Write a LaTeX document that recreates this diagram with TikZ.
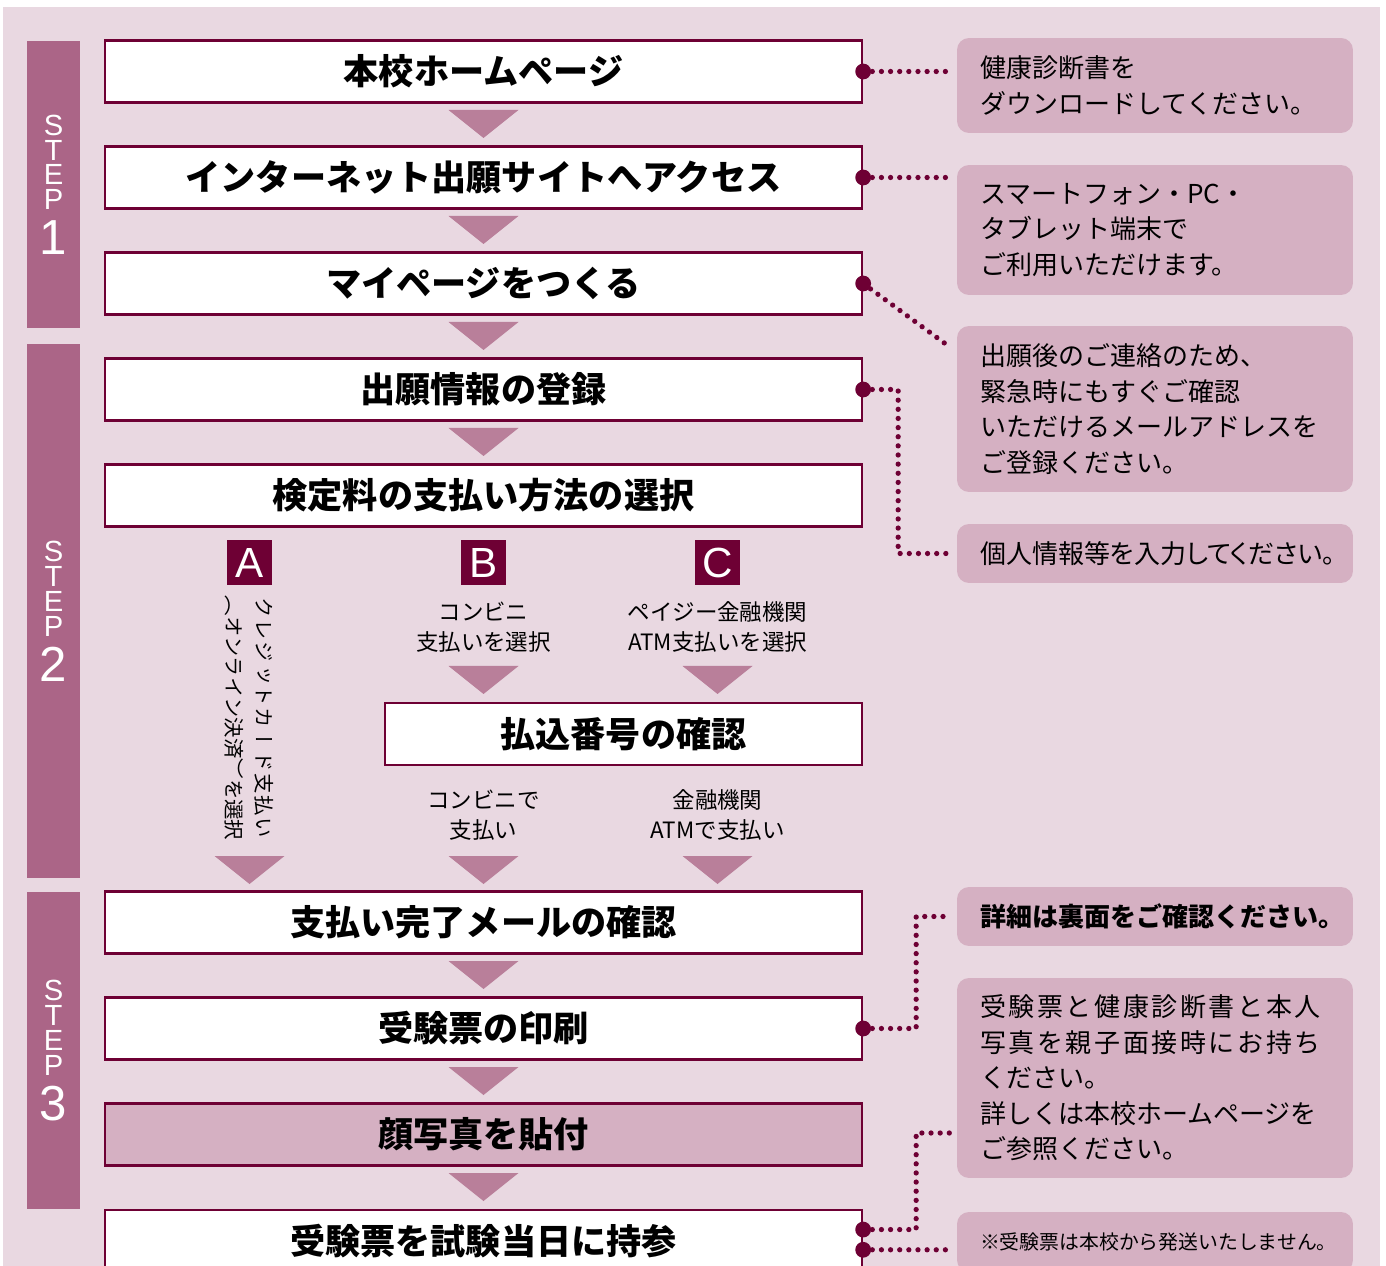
\documentclass[tikz,border=0pt]{standalone}
\usepackage{fontspec}
\usepackage{tikz}
\setmainfont{Noto Sans CJK JP}
\newfontfamily\vertjp{Noto Sans CJK JP}[Vertical=RotatedGlyphs]
\newfontfamily\stepfont{Liberation Sans}
\definecolor{bgP}{RGB}{233,216,225}
\definecolor{stepP}{RGB}{171,101,135}
\definecolor{noteP}{RGB}{213,176,194}
\definecolor{triP}{RGB}{185,127,154}
\definecolor{darkP}{RGB}{110,0,52}

\begin{document}
\begin{tikzpicture}[x=0.02cm, y=-0.02cm,
    flow/.style={draw=darkP, line width=1.4pt, fill=white, minimum width=15.14cm,
                 minimum height=1.24cm, inner sep=0pt, font=\fontsize{20}{24}\selectfont\bfseries},
    stepbar/.style={fill=stepP, minimum width=1.06cm, inner sep=0pt, text=white,
                    align=center, font=\stepfont\fontsize{16.6}{14.2}\selectfont},
    note/.style={fill=noteP, rounded corners=6.8pt, minimum width=7.92cm, text width=7cm,
                 align=left, inner xsep=0pt, font=\fontsize{14.8}{20.2}\selectfont},
    tag/.style={fill=darkP, text=white, minimum size=0.9cm, inner sep=0pt,
                font=\stepfont\fontsize{24}{24}\selectfont},
    sub/.style={align=center, font=\fontsize{12.8}{17}\selectfont},
    vsub/.style={rotate=-90, inner sep=0pt, font=\vertjp\fontsize{11.6}{11.6}\selectfont},
    dotline/.style={darkP, line width=3pt, line cap=round, dash pattern=on 0pt off 5.2pt},
    tri/.style={fill=triP}
  ]
  \useasboundingbox (0,0) rectangle (1386,1266);
  \fill[bgP] (3,7) rectangle (1380,1266);

  % step bars
  \node[stepbar, minimum height=5.74cm] (s1) at (53.5,184.5) {S\\T\\E\\P\\[5pt]{\fontsize{28}{28}\selectfont 1}};
  \node[stepbar, minimum height=10.68cm] (s2) at (53.5,611) {S\\T\\E\\P\\[5pt]{\fontsize{28}{28}\selectfont 2}};
  \node[stepbar, minimum height=6.34cm] (s3) at (53.5,1050.5) {S\\T\\E\\P\\[5pt]{\fontsize{28}{28}\selectfont 3}};

  % flow boxes
  \node[flow] (f1) at (483.5,71.5) {本校ホームページ};
  \node[flow] (f2) at (483.5,177.5) {インターネット出願サイトへアクセス};
  \node[flow] (f3) at (483.5,283.5) {マイページをつくる};
  \node[flow] (f4) at (483.5,389.5) {出願情報の登録};
  \node[flow] (f5) at (483.5,495.5) {検定料の支払い方法の選択};
  \node[flow, minimum width=9.54cm] (f6) at (623.5,734) {払込番号の確認};
  \node[flow] (f7) at (483.5,922.5) {支払い完了メールの確認};
  \node[flow] (f8) at (483.5,1028.5) {受験票の印刷};
  \node[flow, fill=noteP] (f9) at (483.5,1134.5) {顔写真を貼付};
  \node[flow] (f10) at (483.5,1241) {受験票を試験当日に持参};

  \foreach \x/\y in {483.5/110, 483.5/216, 483.5/322, 483.5/428, 483.5/666, 717.5/666,
                     249.5/856, 483.5/856, 717.5/856, 483.5/961, 483.5/1067, 483.5/1173}
    \fill[tri] (\x-35,\y) -- (\x+35,\y) -- (\x,\y+28) -- cycle;

  % payment choices
  \node[tag] (ta) at (249.5,562.5) {A};
  \node[tag] (tb) at (483.5,562.5) {B};
  \node[tag] (tc) at (717.5,562.5) {C};
  \node[vsub] (aR) at (264,718) {\addfontfeature{LetterSpace=8}クレジットカード支払い};
  \node[vsub] (aL) at (234,718) {（オンライン決済）を選択};
  \node[sub] (bt) at (483.5,627) {コンビニ\\支払いを選択};
  \node[sub] (ct) at (717.5,627) {ペイジー金融機関\\ATM支払いを選択};
  \node[sub] (bp) at (483.5,815) {コンビニで\\支払い};
  \node[sub] (cp) at (717.5,815) {金融機関\\ATMで支払い};

  % notes
  \node[note, minimum height=1.9cm] (n1) at (1155,85.5) {健康診断書を\\ダウンロードしてください。};
  \node[note, minimum height=2.6cm] (n2) at (1155,230) {スマートフォン・PC・\\タブレット端末で\\ご利用いただけます。};
  \node[note, minimum height=3.32cm] (n3) at (1155,409)
       {出願後のご連絡のため、\\緊急時にもすぐご確認\\いただけるメールアドレスを\\ご登録ください。};
  \node[note, minimum height=1.18cm] (n4) at (1155,553.5) {\addfontfeature{RawFeature=+palt}個人情報等を入力してください。};
  \node[note, minimum height=1.18cm, font=\fontsize{14.8}{20.2}\selectfont\bfseries] (n5) at (1155,916.5)
       {詳細は裏面をご確認ください。};
  \node[note, minimum height=4cm] (n6) at (1155,1078)
       {{\addfontfeature{LetterSpace=10}受験票と健康診断書と本人}\\{\addfontfeature{LetterSpace=10}写真を親子面接時にお持ち}\\ください。\\詳しくは本校ホームページを\\ご参照ください。};
  \node[note, minimum height=1.2cm, font=\fontsize{11.3}{14}\selectfont] (n7) at (1155,1242)
       {※受験票は本校から発送いたしません。};

  % dotted leaders
  \draw[dotline, shorten >=4pt] (f1.east) -- (f1.east -| n1.west);
  \draw[dotline, shorten >=4pt] (f2.east) -- (f2.east -| n2.west);
  \draw[dotline] (f3.east) -- ([shift={(-6,22)}]n3.north west);
  \draw[dotline] (f4.east) -- ++(35,0) |- ([xshift=-4pt]n4.west);
  \draw[dotline] (f8.east) -- ++(53,0) |- ([xshift=-4pt]n5.west);
  \draw[dotline] ([yshift=6.5pt]f10.east) -- ++(53,0) |- ([shift={(-5,55)}]n6.west);
  \draw[dotline, shorten >=4pt] ([yshift=-5pt]f10.east) -- ([yshift=-5pt]f10.east -| n7.west);
  \fill[darkP] (f1.east) circle (4.5pt) (f2.east) circle (4.5pt) (f3.east) circle (4.5pt)
               (f4.east) circle (4.5pt) (f8.east) circle (4.5pt)
               ([yshift=6.5pt]f10.east) circle (4.5pt) ([yshift=-5pt]f10.east) circle (4.5pt);
\end{tikzpicture}
\end{document}
